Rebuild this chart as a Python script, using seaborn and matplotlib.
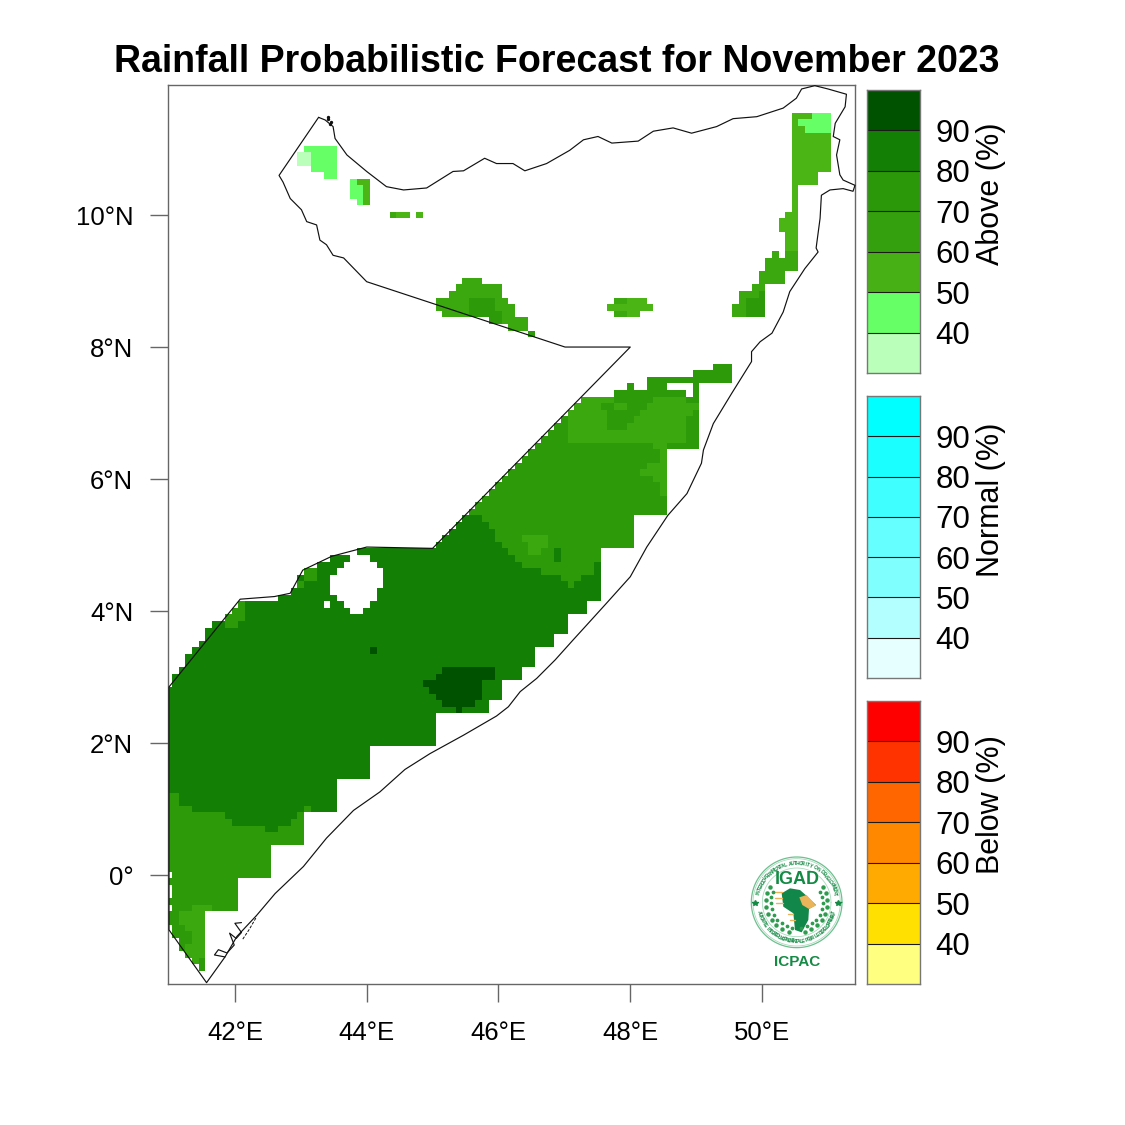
import numpy as np
import matplotlib
matplotlib.use("Agg")
import matplotlib.pyplot as plt
from matplotlib.colors import ListedColormap
import seaborn as sns

# ---------------- data ----------------
TITLE = "Rainfall Probabilistic Forecast for November 2023"
LON_TICKS = [42, 44, 46, 48, 50]
LON_LABELS = ["42°E", "44°E", "46°E", "48°E", "50°E"]
LAT_TICKS = [0, 2, 4, 6, 8, 10]
LAT_LABELS = ["0°", "2°N", "4°N", "6°N", "8°N", "10°N"]
LEVELS = [90, 80, 70, 60, 50, 40]
ABOVE_COLORS = ["#005200", "#137F05", "#2A9808", "#34A00E", "#47B014", "#66FF66", "#BAFFBA"]
NORMAL_COLORS = ["#00FFFF", "#1AFFFF", "#40FFFF", "#66FFFF", "#80FFFF", "#B3FFFF", "#E6FFFF"]
BELOW_COLORS = ["#FF0000", "#FF3300", "#FF6600", "#FF8800", "#FFAA00", "#FFE000", "#FFFF80"]
MAP_COLORS = ["#BAFFBA", "#66FF66", "#4BB516", "#3BA80F", "#2D9A0A", "#137F05", "#005200"]

# main body, row by row: centre latitude, west edge, east edge
body_lat = [2.9, 3.0, 3.1, 3.2, 3.3, 3.4, 3.5, 3.6, 3.7, 3.8, 3.9, 4.0, 4.1, 4.2, 4.3, 4.4, 4.5, 4.6, 4.7, 4.8, 4.9,
            5.0, 5.1, 5.2, 5.3, 5.4, 5.5, 5.6, 5.7, 5.8, 5.9, 6.0, 6.1, 6.2, 6.3, 6.4, 6.5, 6.6, 6.7, 6.8, 6.9, 7.0, 7.1, 7.2]
body_west = [41.05, 41.05, 41.15, 41.25, 41.25, 41.35, 41.45, 41.55, 41.55, 41.65, 41.85, 41.95, 42.05, 42.65, 42.85,
             42.95, 42.95, 43.05, 43.25, 43.45, 43.85,
             45.05, 45.15, 45.25, 45.35, 45.45, 45.55, 45.65, 45.75, 45.85, 45.95, 46.05, 46.15, 46.25, 46.35, 46.45,
             46.55, 46.65, 46.75, 46.85, 46.95, 47.05, 47.15, 47.25]
body_east = [46.05, 46.35, 46.35, 46.55, 46.55, 46.55, 46.85, 46.85, 47.05, 47.05, 47.05, 47.35, 47.35, 47.55, 47.55,
             47.55, 47.55, 47.55, 47.55, 47.55, 47.55,
             48.05, 48.05, 48.05, 48.05, 48.05, 48.55, 48.55, 48.55, 48.55, 48.55, 48.55, 48.55, 48.55, 48.55, 48.55,
             49.05, 49.05, 49.05, 49.05, 49.05, 49.05, 49.05, 49.05]

# patches: south lat, north lat, west lon, east lon
class80_south = [(1.45, 1.95, 40.95, 44.05), (1.95, 2.45, 40.95, 45.05), (2.45, 2.65, 40.95, 45.85),
                 (2.65, 2.85, 40.95, 46.05), (0.95, 1.45, 40.95, 43.55)]
class70_south = [(0.45, 0.95, 40.95, 43.05), (-0.05, 0.45, 40.95, 42.55), (-0.55, -0.05, 40.95, 42.05),
                 (-0.85, -0.55, 40.95, 41.55), (-0.95, -0.85, 41.05, 41.55), (-1.15, -0.95, 41.15, 41.55),
                 (-1.25, -1.15, 41.25, 41.55), (-1.35, -1.25, 41.35, 41.55), (-1.45, -1.35, 41.45, 41.55),
                 (1.05, 1.25, 40.95, 41.15), (0.95, 1.05, 40.95, 41.35), (0.95, 1.05, 43.05, 43.15)]
class80_back = [(0.85, 0.95, 41.85, 42.95), (0.75, 0.85, 41.95, 42.85), (0.65, 0.75, 42.45, 42.65)]
class60_south = [(-0.55, -0.45, 41.35, 41.65), (-0.75, -0.55, 41.15, 41.55), (-0.85, -0.75, 41.25, 41.55),
                 (-1.05, -0.85, 41.35, 41.55), (-1.25, -1.05, 41.25, 41.55), (-1.35, -1.25, 41.35, 41.45)]
class70_body = [(5.35, 5.45, 45.75, 48.05), (5.25, 5.35, 45.85, 48.05), (5.05, 5.25, 45.95, 48.05),
                (4.95, 5.05, 46.05, 48.05), (4.85, 4.95, 46.15, 47.55), (4.75, 4.85, 46.25, 47.55),
                (4.65, 4.75, 46.35, 47.45), (4.55, 4.65, 46.65, 47.45), (4.45, 4.55, 46.95, 47.25),
                (4.35, 4.45, 47.05, 47.15), (4.05, 4.15, 42.05, 42.15), (3.95, 4.05, 41.95, 42.15),
                (3.85, 3.95, 41.85, 42.15), (3.75, 3.85, 41.85, 42.05), (4.35, 4.45, 42.95, 43.05),
                (4.45, 4.65, 43.05, 43.25),
                (7.65, 7.75, 49.25, 49.55), (7.55, 7.65, 48.95, 49.55), (7.45, 7.55, 48.25, 49.55),
                (7.35, 7.45, 48.25, 48.55), (7.35, 7.45, 48.95, 49.05), (7.35, 7.45, 47.95, 48.05),
                (7.25, 7.35, 47.75, 48.85), (7.25, 7.35, 48.95, 49.05)]
class60_body = [(7.15, 7.25, 47.25, 47.75), (7.15, 7.25, 48.35, 48.85), (7.05, 7.15, 47.15, 47.55),
                (7.05, 7.15, 48.25, 49.05), (6.95, 7.05, 47.05, 47.65), (6.95, 7.05, 48.15, 48.95),
                (6.85, 6.95, 47.05, 47.65), (6.85, 6.95, 48.05, 48.85), (6.75, 6.85, 47.05, 47.65),
                (6.75, 6.85, 47.95, 48.85), (6.55, 6.75, 47.05, 48.85), (6.45, 6.55, 48.35, 48.55),
                (5.75, 6.45, 48.45, 48.55), (6.15, 6.25, 48.25, 48.45), (6.05, 6.15, 48.15, 48.45),
                (5.95, 6.05, 48.35, 48.45), (7.05, 7.15, 47.75, 47.95),
                (5.05, 5.15, 46.35, 46.75), (4.95, 5.05, 46.45, 46.75), (4.85, 4.95, 46.45, 46.65)]
class80_spot = [(4.75, 4.95, 46.85, 46.95)]
class90 = [(3.05, 3.15, 45.15, 45.95), (2.95, 3.05, 45.05, 45.95), (2.85, 2.95, 44.85, 45.75),
           (2.75, 2.85, 44.95, 45.75), (2.65, 2.75, 45.05, 45.75), (2.55, 2.65, 45.15, 45.65),
           (2.45, 2.55, 45.35, 45.45), (3.35, 3.45, 44.05, 44.15)]
holes = [(4.75, 4.85, 43.75, 44.05), (4.65, 4.75, 43.65, 44.15), (4.55, 4.65, 43.55, 44.25),
         (4.35, 4.55, 43.45, 44.25), (4.25, 4.35, 43.45, 44.15), (4.15, 4.25, 43.55, 44.15),
         (4.05, 4.15, 43.65, 44.05), (3.95, 4.05, 43.75, 43.95), (4.05, 4.15, 43.35, 43.45),
         (-0.05, 0.05, 40.95, 41.05), (-0.35, -0.15, 40.95, 41.05), (-0.55, -0.45, 40.95, 41.05),
         (-0.85, -0.75, 40.95, 41.05)]

class30_north = [(10.75, 10.95, 42.95, 43.15)]
class40_north = [(10.95, 11.05, 43.05, 43.55), (10.65, 10.95, 43.15, 43.55), (10.55, 10.65, 43.35, 43.55),
                 (10.45, 10.55, 43.75, 43.85), (10.25, 10.45, 43.75, 43.95), (10.15, 10.25, 43.85, 43.95),
                 (11.45, 11.55, 50.75, 51.05), (11.35, 11.45, 50.55, 51.05), (11.25, 11.35, 50.65, 51.05)]
class50_north = [(10.45, 10.55, 43.85, 44.05), (10.15, 10.45, 43.95, 44.05), (9.95, 10.05, 44.45, 44.65),
                 (9.95, 10.05, 44.75, 44.85),
                 (10.65, 11.55, 50.45, 51.05), (10.45, 10.65, 50.45, 50.85), (10.05, 10.45, 50.45, 50.55),
                 (9.95, 10.05, 50.35, 50.55), (9.75, 9.95, 50.25, 50.55), (9.45, 9.75, 50.35, 50.55),
                 (8.65, 8.75, 47.75, 48.25), (8.55, 8.65, 47.65, 48.35), (8.45, 8.55, 47.75, 48.15)]
class60_north = [(9.95, 10.05, 44.35, 44.45),
                 (8.95, 9.05, 45.45, 45.75), (8.85, 8.95, 45.35, 46.05),
                 (8.75, 8.85, 45.25, 46.05), (8.65, 8.75, 45.05, 46.15), (8.55, 8.65, 45.05, 46.25),
                 (8.45, 8.55, 45.15, 46.25), (8.35, 8.45, 45.85, 46.45), (8.25, 8.35, 46.15, 46.45),
                 (9.35, 9.45, 50.15, 50.25), (9.35, 9.45, 50.35, 50.55), (9.15, 9.35, 50.05, 50.55),
                 (8.95, 9.15, 49.95, 50.35), (8.85, 8.95, 49.85, 50.05), (8.65, 8.85, 49.65, 50.05),
                 (8.45, 8.65, 49.55, 50.05), (8.65, 8.75, 47.75, 47.95), (8.45, 8.55, 47.75, 47.95)]
class70_north = [(8.55, 8.75, 45.55, 45.95), (8.45, 8.55, 45.55, 46.05), (8.35, 8.45, 45.85, 46.05),
                 (8.15, 8.25, 46.45, 46.55), (8.45, 8.75, 49.75, 50.05), (8.75, 8.85, 49.95, 50.05)]

# boundary of the country, lon/lat
border_lon = [43.27, 42.67, 42.73, 42.84, 43.01, 43.09, 43.24, 43.29, 43.39, 43.49, 43.65, 44.00, 47.01, 48.00, 45.00,
              44.00, 43.47, 43.03, 42.84, 42.60, 42.08, 41.00, 41.00, 41.57, 41.85, 42.03, 42.33, 42.61, 43.04, 43.39,
              43.80, 44.20, 44.58, 44.96, 45.47, 45.97, 46.15, 46.33, 46.58, 46.86, 47.13, 47.34, 47.64, 48.00, 48.25,
              48.57, 48.86, 49.08, 49.11, 49.26, 49.54, 49.79, 49.84, 49.84, 49.97, 50.15, 50.32, 50.42, 50.65, 50.85,
              50.82, 50.88, 50.90, 51.03, 51.23, 51.38, 51.41, 51.23, 51.18, 51.13, 51.18, 51.08, 51.11, 51.26, 51.28,
              51.00, 50.80, 50.60, 50.52, 50.32, 49.92, 49.56, 49.31, 48.93, 48.65, 48.35, 48.12, 47.72, 47.51, 47.29,
              47.08, 46.73, 46.40, 46.22, 45.97, 45.79, 45.47, 45.31, 44.91, 44.56, 44.30, 44.00, 43.70, 43.52, 43.49,
              43.37, 43.27]
border_lat = [11.48, 10.60, 10.50, 10.25, 10.08, 9.90, 9.85, 9.62, 9.55, 9.39, 9.35, 8.99, 8.00, 8.00, 4.95,
              4.97, 4.83, 4.62, 4.27, 4.22, 4.18, 2.85, -0.83, -1.63, -1.24, -0.93, -0.61, -0.28, 0.13, 0.56,
              0.98, 1.26, 1.60, 1.84, 2.12, 2.41, 2.55, 2.78, 2.98, 3.26, 3.56, 3.79, 4.12, 4.52, 4.97,
              5.45, 5.78, 6.24, 6.44, 6.84, 7.30, 7.70, 7.78, 7.93, 8.08, 8.21, 8.53, 8.84, 9.19, 9.44,
              9.50, 9.95, 10.30, 10.38, 10.40, 10.36, 10.45, 10.53, 10.61, 10.91, 11.14, 11.19, 11.39, 11.64, 11.83,
              11.91, 11.96, 11.91, 11.77, 11.62, 11.49, 11.46, 11.34, 11.24, 11.32, 11.27, 11.12, 11.09, 11.19, 11.14,
              10.98, 10.78, 10.67, 10.78, 10.78, 10.86, 10.67, 10.66, 10.41, 10.38, 10.43, 10.66, 10.91, 11.16, 11.34,
              11.44, 11.48]
inlet_lon = [41.85, 41.69, 41.75, 41.88, 41.99, 41.92, 42.02, 42.10, 42.00, 42.10]
inlet_lat = [-1.24, -1.21, -1.13, -1.18, -1.06, -0.88, -0.96, -0.87, -0.73, -0.72]
shoal_lon = [42.12, 42.22, 42.33]
shoal_lat = [-0.97, -0.82, -0.63]
islet_lon = [43.42, 43.41, 43.46, 43.45]
islet_lat = [11.49, 11.46, 11.41, 11.38]

# ---------------- drawing ----------------
sns.set_theme(style="white")
plt.rcParams["font.family"] = ["Liberation Sans", "DejaVu Sans"]
plt.rcParams["text.color"] = "black"
plt.rcParams["ytick.color"] = "black"
plt.rcParams["xtick.color"] = "black"
S = 1125.0
LON0, LAT0, STEP = 40.95, -1.75, 0.1
NX, NY = 105, 138
FRAME = "#666666"


def box(px0, py0, px1, py1):
    return [px0 / S, 1 - py1 / S, (px1 - px0) / S, (py1 - py0) / S]


def gx(lon):
    return (np.asarray(lon, float) - LON0) / STEP


def gy(lat):
    return (np.asarray(lat, float) - LAT0) / STEP


grid = np.full((NY, NX), np.nan)


def paint(rects, value):
    for s, n, w, e in rects:
        j0, j1 = int(round(gy(s))), int(round(gy(n)))
        i0, i1 = int(round(gx(w))), int(round(gx(e)))
        grid[j0:j1, i0:i1] = value


for la, w, e in zip(body_lat, body_west, body_east):
    paint([(la - 0.05, la + 0.05, w, e)], 5 if la < 5.45 else 4)
paint(class80_south, 5)
paint(class70_south, 4)
paint(class80_back, 5)
paint(class60_south, 3)
paint(class70_body, 4)
paint(class60_body, 3)
paint(class80_spot, 5)
paint(class90, 6)
paint(holes, np.nan)
paint(class50_north, 2)
paint(class40_north, 1)
paint(class30_north, 0)
paint(class60_north, 3)
paint(class70_north, 4)

fig = plt.figure(figsize=(11.25, 11.25), dpi=100, facecolor="white")
ax = fig.add_axes(box(168, 85, 855, 984))
sns.heatmap(grid, ax=ax, cmap=ListedColormap(MAP_COLORS), vmin=-0.5, vmax=6.5, cbar=False,
            xticklabels=False, yticklabels=False)
ax.set_xlim(gx(40.985), gx(51.41))
ax.set_ylim(gy(-1.65), gy(11.97))
ax.plot(gx(border_lon), gy(border_lat), color="#111111", lw=0.85, clip_on=False, zorder=5)
ax.plot(gx(inlet_lon), gy(inlet_lat), color="#111111", lw=0.85, zorder=5)
ax.plot(gx(shoal_lon), gy(shoal_lat), color="#111111", lw=0.7, ls=(0, (3, 1.5)), zorder=5)
ax.plot(gx(islet_lon), gy(islet_lat), ls="none", marker="o", ms=1.4, color="#111111", zorder=5)
ax.set_xticks(gx(LON_TICKS))
ax.set_xticklabels(LON_LABELS)
ax.set_yticks(gy(LAT_TICKS))
ax.set_yticklabels(LAT_LABELS, rotation=0)
ax.tick_params(axis="both", length=13, width=1.0, color=FRAME, labelsize=18.5, labelcolor="black",
               bottom=True, left=True)
ax.tick_params(axis="x", pad=14)
ax.tick_params(axis="y", pad=12)
for sp in ax.spines.values():
    sp.set_visible(True)
    sp.set_color(FRAME)
    sp.set_linewidth(1.0)

fig.text(557 / S, 1 - 61.5 / S, TITLE, ha="center", va="center", fontsize=27, fontweight="bold", color="black")


def legend_bar(colors, label, top, bottom):
    bar = fig.add_axes(box(867, top, 920, bottom))
    values = np.arange(len(colors)).reshape(-1, 1)
    sns.heatmap(values, ax=bar, cmap=ListedColormap(colors), vmin=-0.5, vmax=len(colors) - 0.5, cbar=False,
                xticklabels=False, yticklabels=False)
    bar.hlines(np.arange(1, len(colors)), 0, 1, color="#1a1a1a", lw=0.8)
    bar.yaxis.tick_right()
    bar.set_yticks(np.arange(1, len(colors)))
    bar.set_yticklabels(LEVELS, rotation=0)
    bar.tick_params(axis="y", length=0, pad=11, labelsize=22.5, labelright=True, labelleft=False, labelcolor="black")
    bar.tick_params(axis="x", length=0)
    for sp in bar.spines.values():
        sp.set_visible(True)
        sp.set_color("#777777")
        sp.set_linewidth(1.0)
    fig.text(991 / S, 1 - ((top + bottom) / 2 - 37.5) / S, label, rotation=90, ha="center", va="center",
             fontsize=22, color="black")


legend_bar(ABOVE_COLORS, "Above (%)", 90, 373)
legend_bar(NORMAL_COLORS, "Normal (%)", 396, 678)
legend_bar(BELOW_COLORS, "Below (%)", 701, 984)

# IGAD / ICPAC emblem, drawn in a small box of its own
logo = fig.add_axes(box(740, 845, 855, 980))
logo.set_xlim(0, 345)
logo.set_ylim(405, 0)
logo.axis("off")
logo.patch.set_alpha(0)
GREEN = "#158A45"
cx, cy = 170, 172
tt = np.linspace(0, 2 * np.pi, 200)
logo.plot(cx + 136 * np.cos(tt), cy + 136 * np.sin(tt), color="#6FBF8F", lw=0.9)
logo.plot(cx + 131 * np.cos(tt), cy + 131 * np.sin(tt), color="#A9DBBD", lw=0.6)
logo.plot(cx + 103 * np.cos(tt), cy + 103 * np.sin(tt), color="#A9DBBD", lw=0.6)


def ring_text(text, a0, a1, radius, flip=False):
    for ch, ang in zip(text, np.linspace(a0, a1, len(text))):
        r = np.deg2rad(ang)
        rot = ang - 90 if not flip else ang + 90
        logo.text(cx + radius * np.cos(r), cy - radius * np.sin(r), ch, rotation=rot, ha="center", va="center",
                  fontsize=3.6, color=GREEN, fontweight="bold", rotation_mode="anchor")


ring_text("INTERGOVERNMENTAL AUTHORITY ON DEVELOPMENT", 168, 12, 117)
ring_text("AUTORITE INTERGOUVERNEMENTALE POUR LE DEVELOPPEMENT", 195, 345, 117, flip=True)
logo.plot([45, 295], [175, 175], ls="none", marker="*", ms=4, color=GREEN)
logo.text(172, 102, "IGAD", ha="center", va="center", fontsize=13, fontweight="bold", color=GREEN)
logo.text(170, 350, "ICPAC", ha="center", va="center", fontsize=11, fontweight="bold", color=GREEN)
logo.fill([125, 150, 180, 197, 228, 207, 205, 185, 165, 160, 130],
          [145, 130, 135, 150, 180, 192, 225, 262, 255, 205, 185], color="#12874A", lw=0)
logo.fill([178, 200, 228, 207, 187], [157, 150, 182, 192, 180], color="#E9B45A", lw=0)
for yy, x0, x1 in [(142, 100, 125), (158, 105, 125), (175, 108, 130), (208, 145, 160), (225, 150, 165)]:
    logo.plot([x0, x1], [yy, yy], color="#E9B45A", lw=1.0)
tl = np.deg2rad(np.linspace(150, 255, 9))
for sign in (-1, 1):
    logo.plot(cx - sign * 92 * np.cos(tl), cy - 92 * np.sin(tl), ls="none", marker="o", ms=2.2, color="#2E9B4F")
    logo.plot(cx - sign * 78 * np.cos(tl + 0.1), cy - 78 * np.sin(tl + 0.1), ls="none", marker="o", ms=1.7,
              color="#2E9B4F")

fig.savefig("out.png", dpi=100, facecolor="white")
